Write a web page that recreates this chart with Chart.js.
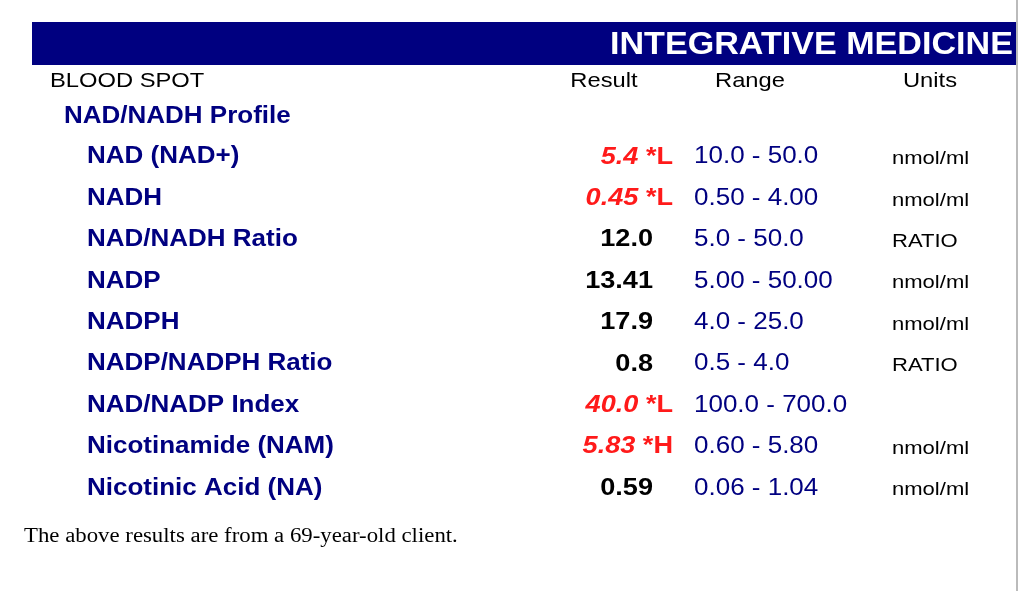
<!DOCTYPE html>
<html>
<head>
<meta charset="utf-8">
<script src="https://cdn.jsdelivr.net/npm/chart.js@4"></script>
<style>
  body { margin: 0; background: #fff; }
  #wrap { width: 1024px; height: 591px; position: relative; }
</style>
</head>
<body>
<div id="wrap"><canvas id="labChart" width="1024" height="591"></canvas></div>
<script>
// table rows
const tests = ['NAD (NAD+)', 'NADH', 'NAD/NADH Ratio', 'NADP', 'NADPH', 'NADP/NADPH Ratio', 'NAD/NADP Index', 'Nicotinamide (NAM)', 'Nicotinic Acid (NA)'];
const results = ['5.4', '0.45', '12.0', '13.41', '17.9', '0.8', '40.0', '5.83', '0.59'];
const flags = ['*L', '*L', '', '', '', '', '*L', '*H', ''];
const ranges = ['10.0 - 50.0', '0.50 - 4.00', '5.0 - 50.0', '5.00 - 50.00', '4.0 - 25.0', '0.5 - 4.0', '100.0 - 700.0', '0.60 - 5.80', '0.06 - 1.04'];
const units = ['nmol/ml', 'nmol/ml', 'RATIO', 'nmol/ml', 'nmol/ml', 'RATIO', '', 'nmol/ml', 'nmol/ml'];

const navy = '#000080';
const red = '#ff1a1a';
const sans = 'Liberation Sans, Arial, sans-serif';
const SX = 1.13; // the source text is a bit stretched sideways

function text(ctx, str, x, y, align, sx) {
  sx = sx || SX;
  ctx.save();
  ctx.translate(x, y);
  ctx.scale(sx, 1);
  ctx.textAlign = align;
  ctx.fillText(str, 0, 0);
  ctx.restore();
}

const tablePlugin = {
  id: 'tablePlugin',
  afterDraw(chart) {
    const ctx = chart.ctx;
    const y = chart.scales.y;
    ctx.save();
    ctx.textBaseline = 'middle';

    // header bar
    ctx.fillStyle = navy;
    ctx.fillRect(32, 22, 984, 43);
    ctx.save();
    ctx.beginPath(); ctx.rect(32, 22, 984, 43); ctx.clip();
    ctx.fillStyle = '#fff';
    ctx.font = 'bold 31px ' + sans;
    text(ctx, 'INTEGRATIVE MEDICINE', 610, 45, 'left', 1.1);
    ctx.restore();
    ctx.fillStyle = '#bbb';
    ctx.fillRect(1016, 0, 2, 591);

    // column headers
    ctx.fillStyle = '#000';
    ctx.font = '21px ' + sans;
    text(ctx, 'BLOOD SPOT', 50, 81, 'left');
    text(ctx, 'Result', 604, 81, 'center');
    text(ctx, 'Range', 750, 81, 'center');
    text(ctx, 'Units', 930, 81, 'center');

    ctx.fillStyle = navy;
    ctx.font = 'bold 23px ' + sans;
    text(ctx, 'NAD/NADH Profile', 64, 117, 'left');

    tests.forEach((name, i) => {
      const py = y.getPixelForValue(i);
      ctx.fillStyle = navy;
      ctx.font = 'bold 23px ' + sans;
      text(ctx, name, 87, py, 'left');

      if (flags[i]) {
        ctx.fillStyle = red;
        ctx.font = 'bold 24px ' + sans;
        text(ctx, ' ' + flags[i], 673, py, 'right');
        const fw = ctx.measureText(' ' + flags[i]).width * SX;
        ctx.font = 'italic bold 24px ' + sans;
        text(ctx, results[i], 673 - fw, py, 'right');
      } else {
        ctx.fillStyle = '#000';
        ctx.font = 'bold 24px ' + sans;
        text(ctx, results[i], 653, py, 'right');
      }

      ctx.fillStyle = navy;
      ctx.font = '23px ' + sans;
      text(ctx, ranges[i], 694, py, 'left');

      ctx.fillStyle = '#000';
      ctx.font = '19px ' + sans;
      text(ctx, units[i], 892, py + 2, 'left', 1.16);
    });

    ctx.fillStyle = '#000';
    ctx.font = '20px Liberation Serif, Times New Roman, serif';
    text(ctx, 'The above results are from a 69-year-old client.', 24, 537, 'left', 1.14);
    ctx.restore();
  }
};

new Chart(document.getElementById('labChart'), {
  type: 'scatter',
  data: {
    datasets: [{
      data: tests.map((t, i) => ({ x: 0, y: i })),
      pointRadius: 0
    }]
  },
  options: {
    responsive: false,
    animation: false,
    layout: { padding: 0 },
    plugins: { legend: { display: false }, tooltip: { enabled: false } },
    scales: {
      x: { display: false, min: 0, max: 1 },
      y: { display: false, reverse: true, min: -3.792, max: 10.483 }
    }
  },
  plugins: [tablePlugin]
});
</script>
</body>
</html>
